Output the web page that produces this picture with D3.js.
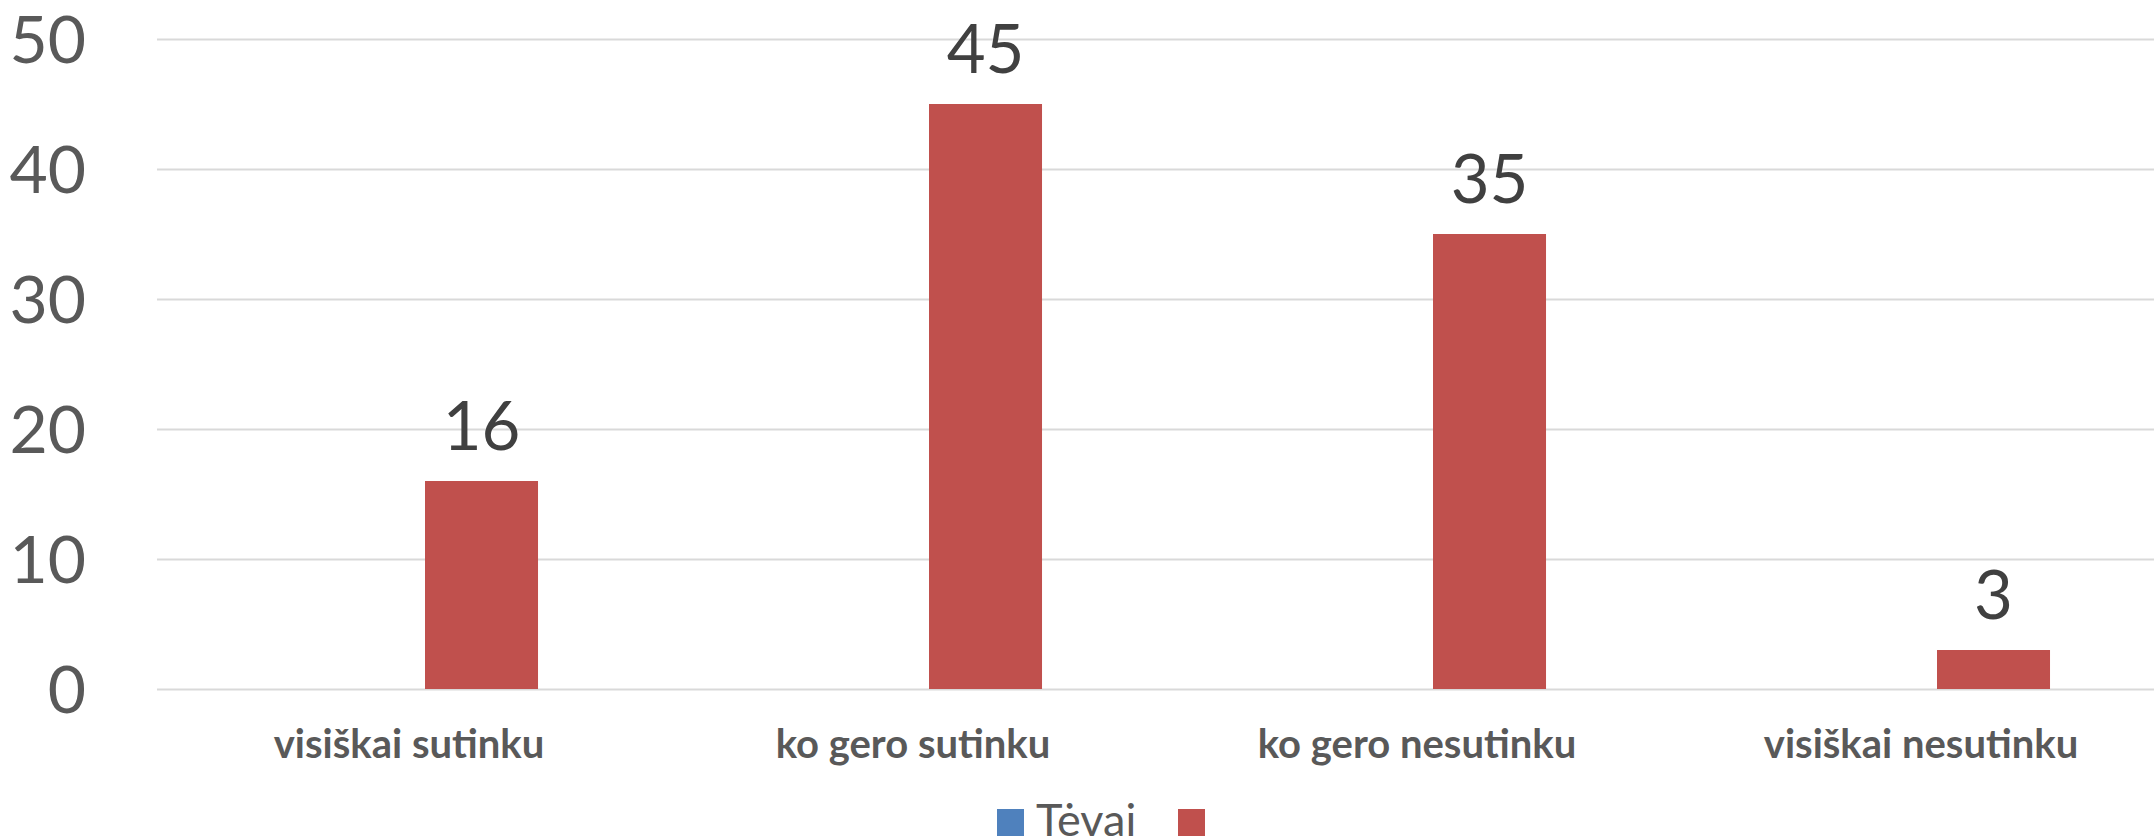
<!DOCTYPE html>
<html>
<head>
<meta charset="utf-8">
<script src="https://cdn.jsdelivr.net/npm/d3@7"></script>
<style>
  html, body { margin: 0; padding: 0; background: #fff; }
  svg { display: block; }
</style>
</head>
<body>
<svg id="chart" width="2154" height="839"></svg>
<script>
// ---- data ----
const categories = ["visiškai sutinku", "ko gero sutinku", "ko gero nesutinku", "visiškai nesutinku"];
const seriesNames = ["Tėvai", ""];
const tevaiValues = [null, null, null, null];
const secondValues = [16, 45, 35, 3];
const yTicks = [0, 10, 20, 30, 40, 50];
const seriesColors = ["#4F81BD", "#C0504D"];

const seriesValues = [tevaiValues, secondValues];

// ---- layout ----
const W = 2154, H = 839;
const plotLeft = 157, plotRight = 2173, plotTop = 39, plotBottom = 689;

const svg = d3.select("#chart");

const x = d3.scaleBand().domain(categories).range([plotLeft, plotRight]).padding(0);
const xInner = d3.scaleBand().domain(d3.range(seriesNames.length))
  .range([0, x.bandwidth()]).paddingInner(0.2207).paddingOuter(0.848);
const y = d3.scaleLinear().domain([0, 50]).range([plotBottom, plotTop]);

// y axis with gridlines
const yAxis = d3.axisLeft(y).tickValues(yTicks).tickSize(-(plotRight - plotLeft)).tickPadding(71).tickFormat(d3.format("d"));
const gy = svg.append("g").attr("transform", `translate(${plotLeft},0)`).call(yAxis);
gy.select(".domain").remove();
gy.selectAll(".tick line").attr("stroke", "#D9D9D9").attr("stroke-width", 2);
gy.selectAll(".tick text")
  .attr("fill", "#595959")
  .attr("font-family", "Lato, 'Open Sans', sans-serif")
  .attr("font-size", 66)
  .attr("dy", "0.36em");

// bars
const flat = [];
seriesValues.forEach((vals, si) => {
  vals.forEach((v, ci) => {
    if (v !== null && v !== undefined) flat.push({ si, ci, v });
  });
});

svg.append("g").selectAll("rect").data(flat).join("rect")
  .attr("x", d => x(categories[d.ci]) + xInner(d.si))
  .attr("width", xInner.bandwidth())
  .attr("y", d => y(d.v))
  .attr("height", d => y(0) - y(d.v))
  .attr("fill", d => seriesColors[d.si]);

// data labels
svg.append("g").selectAll("text").data(flat).join("text")
  .attr("x", d => x(categories[d.ci]) + xInner(d.si) + xInner.bandwidth() / 2)
  .attr("y", d => y(d.v) - 31)
  .attr("text-anchor", "middle")
  .attr("fill", "#404040")
  .attr("font-family", "Lato, 'Open Sans', sans-serif")
  .attr("font-size", 67)
  .text(d => d.v);

// x axis labels
const xAxis = d3.axisBottom(x).tickSize(0).tickPadding(0);
const gx = svg.append("g").attr("transform", `translate(0,${plotBottom})`).call(xAxis);
gx.select(".domain").remove();
gx.selectAll(".tick text")
  .attr("y", 69)
  .attr("dy", 0)
  .attr("fill", "#595959")
  .attr("font-family", "Lato, 'Open Sans', sans-serif")
  .attr("font-weight", "bold")
  .attr("font-size", 40);

// legend
const legendX = [997, 1178];
const lg = svg.append("g");
seriesNames.forEach((name, i) => {
  lg.append("rect")
    .attr("x", legendX[i]).attr("y", 809)
    .attr("width", 27).attr("height", 27)
    .attr("fill", seriesColors[i]);
  if (name) {
    lg.append("text")
      .attr("x", legendX[i] + 39).attr("y", 836)
      .attr("fill", "#595959")
      .attr("font-family", "Lato, 'Open Sans', sans-serif")
      .attr("font-size", 45)
      .text(name);
  }
});
</script>
</body>
</html>
